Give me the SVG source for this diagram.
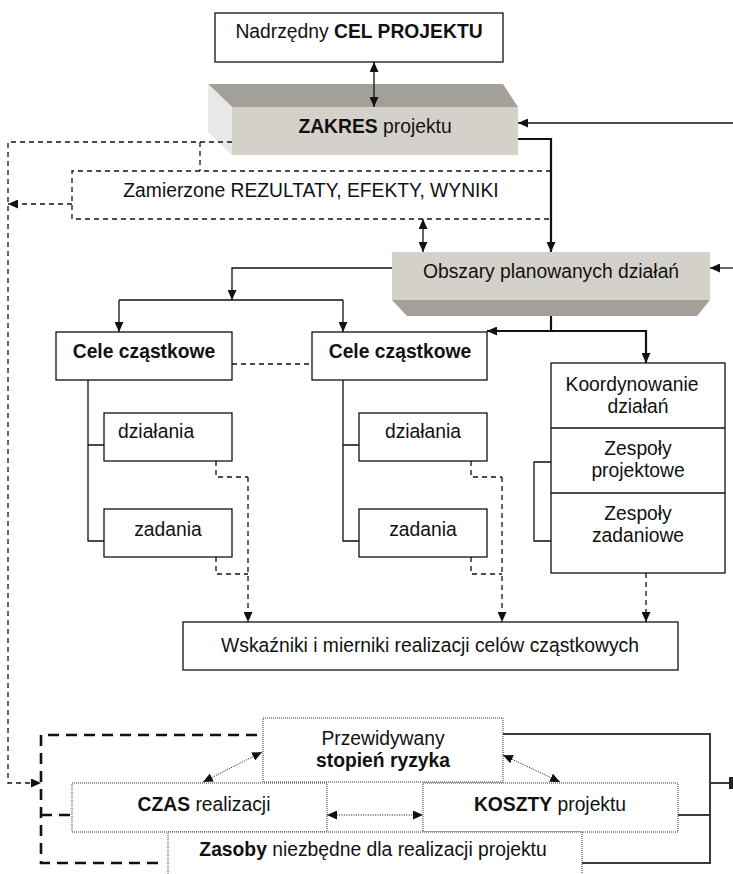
<svg xmlns="http://www.w3.org/2000/svg" width="733" height="874" viewBox="0 0 733 874">
  <style>
    text { font-family: "Liberation Sans", Arial, sans-serif; font-size: 19.3px; fill: #111; }
    .b { font-weight: bold; }
    .box { fill: #fff; stroke: #111; stroke-width: 1.3; }
    .dot { fill: #fff; stroke: #333; stroke-width: 1; stroke-dasharray: 1 1; }
    .ln { fill: none; stroke: #111; stroke-width: 1.3; }
    .thick { fill: none; stroke: #111; stroke-width: 2.2; }
    .dash { fill: none; stroke: #111; stroke-width: 1.3; stroke-dasharray: 5 4; }
    .bigdash { fill: none; stroke: #111; stroke-width: 2.6; stroke-dasharray: 11 7; }
    .dotln { fill: none; stroke: #333; stroke-width: 1; stroke-dasharray: 1.2 1.2; }
    .gray { fill: none; stroke: #3a3a3a; stroke-width: 2; }
    .front { fill: #d4d1cb; }
    .shade { fill: #a3a09a; }
    .side { fill: #e8e8e8; }
  </style>
  <defs>
    <marker id="ah" markerUnits="userSpaceOnUse" markerWidth="10" markerHeight="9" refX="10" refY="4.5" orient="auto-start-reverse">
      <path d="M0,0 L10,4.5 L0,9 z" fill="#111"/>
    </marker>
    <marker id="bar" markerUnits="userSpaceOnUse" markerWidth="4" markerHeight="12" refX="2" refY="6" orient="auto">
      <rect x="0" y="0" width="4" height="12" fill="#222"/>
    </marker>
  </defs>

  <rect width="733" height="874" fill="#fff"/>

  <g id="cel-projektu">
    <rect class="box" x="215" y="13" width="288" height="49"/>
    <text x="359" y="38" text-anchor="middle">Nadrzędny <tspan class="b">CEL PROJEKTU</tspan></text>
  </g>

  <g id="zakres">
    <polygon class="shade" points="208,84 503,84 518,107 232,107"/>
    <polygon class="side" points="208,84 232,107 232,155 208,132"/>
    <rect class="front" x="232" y="107" width="286" height="48"/>
    <text x="375" y="133" text-anchor="middle"><tspan class="b">ZAKRES</tspan> projektu</text>
  </g>

  <g id="rezultaty">
    <path class="dash" d="M551,171 H72 V219 H551"/>
    <text x="311" y="197" text-anchor="middle">Zamierzone REZULTATY, EFEKTY, WYNIKI</text>
  </g>

  <g id="obszary">
    <rect class="front" x="392" y="252" width="318" height="48"/>
    <polygon class="shade" points="392,300 710,300 697,316 407,316"/>
    <text x="551" y="278" text-anchor="middle">Obszary planowanych działań</text>
  </g>

  <g id="cele-1">
    <rect class="box" x="56" y="332" width="176" height="48"/>
    <text class="b" x="144" y="358" text-anchor="middle">Cele cząstkowe</text>
  </g>
  <g id="dzialania-1">
    <rect class="box" x="104" y="413" width="128" height="48"/>
    <text x="118" y="438">działania</text>
  </g>
  <g id="zadania-1">
    <rect class="box" x="104" y="509" width="128" height="48"/>
    <text x="168" y="536" text-anchor="middle">zadania</text>
  </g>

  <g id="cele-2">
    <rect class="box" x="312" y="332" width="175" height="48"/>
    <text class="b" x="400" y="358" text-anchor="middle">Cele cząstkowe</text>
  </g>
  <g id="dzialania-2">
    <rect class="box" x="359" y="413" width="128" height="48"/>
    <text x="423" y="438" text-anchor="middle">działania</text>
  </g>
  <g id="zadania-2">
    <rect class="box" x="359" y="509" width="128" height="48"/>
    <text x="423" y="536" text-anchor="middle">zadania</text>
  </g>

  <g id="koordynowanie">
    <rect class="box" x="551" y="363" width="174" height="210"/>
    <line class="ln" x1="551" y1="428" x2="725" y2="428"/>
    <line class="ln" x1="551" y1="493" x2="725" y2="493"/>
    <text x="632" y="391" text-anchor="middle">Koordynowanie</text>
    <text x="638" y="413" text-anchor="middle">działań</text>
    <text x="638" y="455" text-anchor="middle">Zespoły</text>
    <text x="638" y="477" text-anchor="middle">projektowe</text>
    <text x="638" y="520" text-anchor="middle">Zespoły</text>
    <text x="638" y="542" text-anchor="middle">zadaniowe</text>
  </g>

  <g id="wskazniki">
    <rect class="box" x="183" y="622" width="495" height="48"/>
    <text x="430" y="652" text-anchor="middle">Wskaźniki i mierniki realizacji celów cząstkowych</text>
  </g>

  <g id="ryzyko">
    <rect class="dot" x="263" y="718" width="240" height="64"/>
    <text x="383" y="745" text-anchor="middle">Przewidywany</text>
    <text class="b" x="383" y="767" text-anchor="middle">stopień ryzyka</text>
  </g>
  <g id="czas">
    <rect class="dot" x="72" y="783" width="255" height="49"/>
    <text x="204" y="811" text-anchor="middle"><tspan class="b">CZAS</tspan> realizacji</text>
  </g>
  <g id="koszty">
    <rect class="dot" x="423" y="783" width="255" height="49"/>
    <text x="550" y="811" text-anchor="middle"><tspan class="b">KOSZTY</tspan> projektu</text>
  </g>
  <g id="zasoby">
    <rect class="dot" x="168" y="832" width="414" height="60"/>
    <text x="373" y="856" text-anchor="middle"><tspan class="b">Zasoby</tspan> niezbędne dla realizacji projektu</text>
  </g>

  <g id="connectors">
    <!-- top level -->
    <line class="ln" x1="374" y1="62" x2="374" y2="107" marker-start="url(#ah)" marker-end="url(#ah)"/>
    <line class="ln" x1="733" y1="123" x2="518" y2="123" marker-end="url(#ah)"/>
    <path class="thick" d="M518,139 H551 V252" marker-end="url(#ah)"/>
    <line class="ln" x1="423" y1="219" x2="423" y2="252" marker-start="url(#ah)" marker-end="url(#ah)"/>
    <line class="ln" x1="733" y1="268" x2="710" y2="268" marker-end="url(#ah)"/>

    <!-- dashed feedback rail on the left -->
    <path class="dash" d="M232,142 H8 V783 H41" marker-end="url(#ah)"/>
    <line class="dash" x1="200" y1="142" x2="200" y2="171"/>
    <line class="dash" x1="72" y1="204" x2="8" y2="204" marker-end="url(#ah)"/>

    <!-- planned areas to sub-goals -->
    <path class="ln" d="M392,268 H232 V300" marker-end="url(#ah)"/>
    <line class="ln" x1="119" y1="300" x2="343" y2="300"/>
    <line class="ln" x1="119" y1="300" x2="119" y2="332" marker-end="url(#ah)"/>
    <line class="ln" x1="343" y1="300" x2="343" y2="332" marker-end="url(#ah)"/>
    <line class="thick" x1="551" y1="316" x2="551" y2="331"/>
    <line class="thick" x1="646" y1="331" x2="487" y2="331" marker-end="url(#ah)"/>
    <line class="thick" x1="646" y1="330" x2="646" y2="363" marker-end="url(#ah)"/>
    <line class="dash" x1="232" y1="364" x2="312" y2="364"/>

    <!-- sub-goal trees -->
    <path class="ln" d="M88,380 V541 H104 M88,445 H104"/>
    <path class="ln" d="M343,380 V541 H359 M343,445 H359"/>
    <path class="ln" d="M551,462 H534 V541 H551"/>

    <!-- indicators -->
    <path class="dash" d="M216,461 V477 H248 M216,557 V574 H248"/>
    <line class="dash" x1="248" y1="477" x2="248" y2="622" marker-end="url(#ah)"/>
    <path class="dash" d="M471,461 V477 H502 M471,557 V574 H502"/>
    <line class="dash" x1="502" y1="477" x2="502" y2="622" marker-end="url(#ah)"/>
    <line class="dash" x1="646" y1="573" x2="646" y2="622" marker-end="url(#ah)"/>

    <!-- bottom bracket -->
    <path class="bigdash" d="M257,735 H41 V863 H163"/>
    <line class="bigdash" x1="41" y1="815" x2="72" y2="815"/>

    <!-- risk / time / cost links -->
    <line class="dotln" x1="262" y1="752" x2="203" y2="782" marker-start="url(#ah)" marker-end="url(#ah)"/>
    <line class="dotln" x1="503" y1="755" x2="560" y2="782" marker-start="url(#ah)" marker-end="url(#ah)"/>
    <line class="dotln" x1="327" y1="815" x2="423" y2="815" marker-start="url(#ah)" marker-end="url(#ah)"/>

    <!-- right collector -->
    <path class="gray" d="M503,734 H710 V863 H582 M678,815 H710"/>
    <line class="gray" x1="710" y1="783" x2="731" y2="783" marker-end="url(#bar)"/>
  </g>
</svg>
